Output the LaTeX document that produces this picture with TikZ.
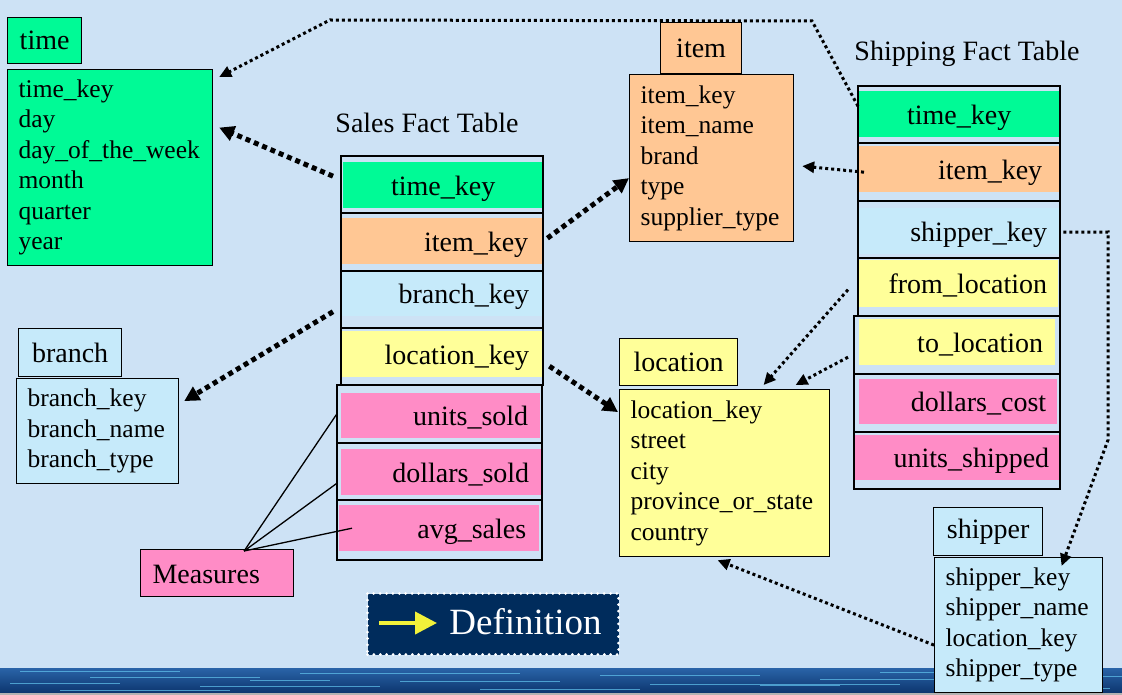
\documentclass[tikz,border=0pt]{standalone}
\usepackage{fontspec}
\setmainfont{Liberation Serif}
\usetikzlibrary{arrows.meta,calc}
\definecolor{bgblue}{HTML}{CDE2F5}
\definecolor{cgreen}{HTML}{00FA96}
\definecolor{corange}{HTML}{FFC794}
\definecolor{cblue}{HTML}{C6EAFA}
\definecolor{cyellow}{HTML}{FFFF99}
\definecolor{cpink}{HTML}{FF8CC6}
\definecolor{navy}{HTML}{002C5C}
\definecolor{arrowyellow}{HTML}{F2F23A}
\definecolor{waterA}{HTML}{2A64A8}
\definecolor{waterB}{HTML}{0C356E}
\definecolor{streak}{HTML}{62C4EE}
\newcommand\mybodyfont{\fontsize{25.5}{30.5}\selectfont}
\newcommand\mybigfont{\fontsize{28}{33}\selectfont}
\begin{document}
\begin{tikzpicture}[x=1pt,y=-1pt,
  hdr/.style={draw=black, line width=1.2pt, anchor=north west, font=\mybigfont, inner sep=0pt},
  dbody/.style={draw=black, line width=1.2pt, anchor=north west, font=\mybodyfont, align=left, inner xsep=11pt, inner ysep=0pt},
  row/.style={anchor=north west, font=\mybigfont, minimum height=46pt, inner ysep=0pt, text height=20pt, text depth=0pt},
  frame/.style={draw=black, line width=2.4pt},
  fkbig/.style={line width=5pt, dash pattern=on 5pt off 4pt, -{Triangle[length=15pt,width=15pt]}},
  fksmall/.style={line width=3pt, dash pattern=on 3pt off 3pt, -{Triangle[length=12pt,width=11pt]}},
  measline/.style={line width=1.3pt},
  title/.style={font=\mybigfont, inner sep=0pt}
]
\useasboundingbox (0,0) rectangle (1122,695);
% background
\fill[bgblue] (0,0) rectangle (1122,695);
% water strip
\shade[top color=waterA, bottom color=waterB] (0,668) rectangle (1122,693);
\foreach \yy/\a/\b in {671/20/180, 673/300/520, 675/600/760, 677/90/260, 679/820/1000, 681/400/560, 683/10/120, 684/650/900, 686/200/380, 688/950/1110, 689/480/640, 690/60/230, 672/880/1060, 676/1040/1122, 680/250/330, 685/760/840}
  {\draw[streak, line width=1pt, opacity=0.7] (\a,\yy) -- (\b,\yy);}
\fill[gray!60] (0,693) rectangle (1122,695);

% ---------- dimension tables ----------
\node[hdr, fill=cgreen, minimum width=74pt, minimum height=46pt] (thdr) at (7,17) {time};
\node[dbody, fill=cgreen, text width=183pt, minimum height=196pt] (tb) at (7,69)
  {time\_key\\day\\day\_of\_the\_week\\month\\quarter\\year};

\node[hdr, fill=corange, minimum width=81pt, minimum height=51pt] (ihdr) at (660,22) {item};
\node[dbody, fill=corange, text width=142pt, minimum height=167pt] (ib) at (629,74)
  {item\_key\\item\_name\\brand\\type\\supplier\_type};

\node[hdr, fill=cblue, minimum width=103pt, minimum height=48pt] (bhdr) at (18,328) {branch};
\node[dbody, fill=cblue, text width=140pt, minimum height=105pt] (bb) at (16,378)
  {branch\_key\\branch\_name\\branch\_type};

\node[hdr, fill=cyellow, minimum width=118pt, minimum height=47pt] (lhdr) at (619,338) {location};
\node[dbody, fill=cyellow, text width=188pt, minimum height=167pt] (lb) at (619,389)
  {location\_key\\street\\city\\province\_or\_state\\country};

\node[hdr, fill=cblue, minimum width=109pt, minimum height=48pt] (shdr) at (933,507) {shipper};
\node[dbody, fill=cblue, text width=146pt, minimum height=135pt] (sb) at (934,557)
  {shipper\_key\\shipper\_name\\location\_key\\shipper\_type};

% ---------- Sales fact table ----------
\node[title] (stitle) at (427,123) {Sales Fact Table};
\node[row, fill=cgreen, text width=200pt, inner xsep=0pt, align=center] (s_time) at (343,162) {time\_key};
\node[row, fill=corange, text width=173pt, inner xsep=14pt, align=right] (s_item) at (341,218) {item\_key};
\node[row, fill=cblue, text width=175pt, inner xsep=13pt, align=right, minimum height=45pt] (s_branch) at (341,271) {branch\_key};
\node[row, fill=cyellow, text width=175pt, inner xsep=13pt, align=right] (s_loc) at (341,331) {location\_key};
\node[row, fill=cpink, text width=175pt, inner xsep=12pt, align=right, minimum height=45pt] (s_units) at (341,393) {units\_sold};
\node[row, fill=cpink, text width=175pt, inner xsep=13pt, align=right] (s_dollars) at (341,449) {dollars\_sold};
\node[row, fill=cpink, text width=174pt, inner xsep=13pt, align=right] (s_avg) at (339,505) {avg\_sales};
\draw[frame] (341,156) rectangle (543,385);
\draw[frame] (341,213) -- (543,213) (341,271) -- (543,271) (341,328) -- (543,328);
\draw[frame] (337,385) rectangle (542,560);
\draw[frame] (337,443) -- (542,443) (337,500) -- (542,500);

% ---------- Shipping fact table ----------
\node[title] (htitle) at (967,54) {Shipping Fact Table};
\node[row, fill=cgreen, text width=202pt, inner xsep=0pt, align=center] (h_time) at (858,91) {time\_key};
\node[row, fill=corange, text width=166pt, inner xsep=18pt, align=right] (h_item) at (858,146) {item\_key};
\node[row, fill=cblue, text width=176pt, inner xsep=13pt, align=right] (h_ship) at (858,208) {shipper\_key};
\node[row, fill=cyellow, text width=178pt, inner xsep=11pt, align=right, minimum height=47pt] (h_from) at (858,260) {from\_location};
\node[row, fill=cyellow, text width=172pt, inner xsep=12pt, align=right] (h_to) at (859,319) {to\_location};
\node[row, fill=cpink, text width=176pt, inner xsep=11pt, align=right, minimum height=45pt] (h_dol) at (859,379) {dollars\_cost};
\node[row, fill=cpink, text width=182pt, inner xsep=12pt, align=right, minimum height=45pt] (h_units) at (855,435) {units\_shipped};
\draw[frame] (858,86) rectangle (1060,316);
\draw[frame] (858,143) -- (1060,143) (858,201) -- (1060,201) (858,258) -- (1060,258);
\draw[frame] (854,316) rectangle (1060,489);
\draw[frame] (854,374) -- (1060,374) (854,432) -- (1060,432);

% ---------- Measures ----------
\node[hdr, fill=cpink, text width=129pt, inner xsep=12pt, minimum height=47pt, align=left, text height=20pt, text depth=0pt] (ms) at (140,549) {Measures};
\coordinate (mp) at ($(ms.north)+(27,2)$);
\draw[measline] (mp) -- ($(s_units.west)+(-4,-2)$);
\draw[measline] (mp) -- ($(s_dollars.west)+(-4,11)$);
\draw[measline] (mp) -- ($(s_avg.west)+(13,0)$);

% ---------- Sales connectors ----------
\draw[fkbig] ($(s_time.west)+(-10,-9)$) -- ($(tb.east)+(6,-40)$);
\draw[fkbig] ($(s_item.east)+(5,-3)$) -- ($(ib.west)+(0,20)$);
\draw[fkbig] ($(s_branch.west)+(-8,18)$) -- ($(bb.east)+(5,-30)$);
\draw[fkbig] ($(s_loc.east)+(7,12)$) -- ($(lb.west)+(-1,-61)$);

% ---------- Shipping connectors ----------
\coordinate (c1) at (812,21);
\coordinate (c2) at (330,20);
\draw[fksmall] ($(h_time.west)+(0,-8)$) -- (c1) -- (c2) -- ($(tb.north east)+(6,8)$);
\draw[fksmall] ($(h_item.west)+(6,3)$) -- ($(ib.east)+(8,8)$);
\coordinate (c3) at (1108,232);
\coordinate (c4) at (1108,440);
\draw[fksmall] ($(h_ship.east)+(3,1)$) -- (c3) -- (c4) -- ($(sb.north)+(43,9)$);
\draw[fksmall] ($(h_from.west)+(-10,6)$) -- ($(lb.north)+(39,-4)$);
\draw[fksmall] ($(h_to.west)+(-11,15)$) -- ($(lb.north)+(71,-4)$);
\draw[fksmall] ($(sb.west)+(0,20)$) -- ($(lb.south)+(-7,3)$);

% ---------- Definition button ----------
\node[anchor=north west, fill=navy, draw=white, line width=3pt, dash pattern=on 0pt off 6.4pt, line cap=round,
      minimum width=251pt, minimum height=61pt, inner sep=0pt] (defbtn) at (366,592) {};
\node[font=\fontsize{37}{40}\selectfont, text=white, inner sep=0pt] (deftext) at (525.5,622) {Definition};
\draw[arrowyellow, line width=4pt, -{Triangle[length=22pt,width=22pt]}] ($(defbtn.west)+(13,-1)$) -- ($(defbtn.west)+(71,-1)$);
\end{tikzpicture}
\end{document}
